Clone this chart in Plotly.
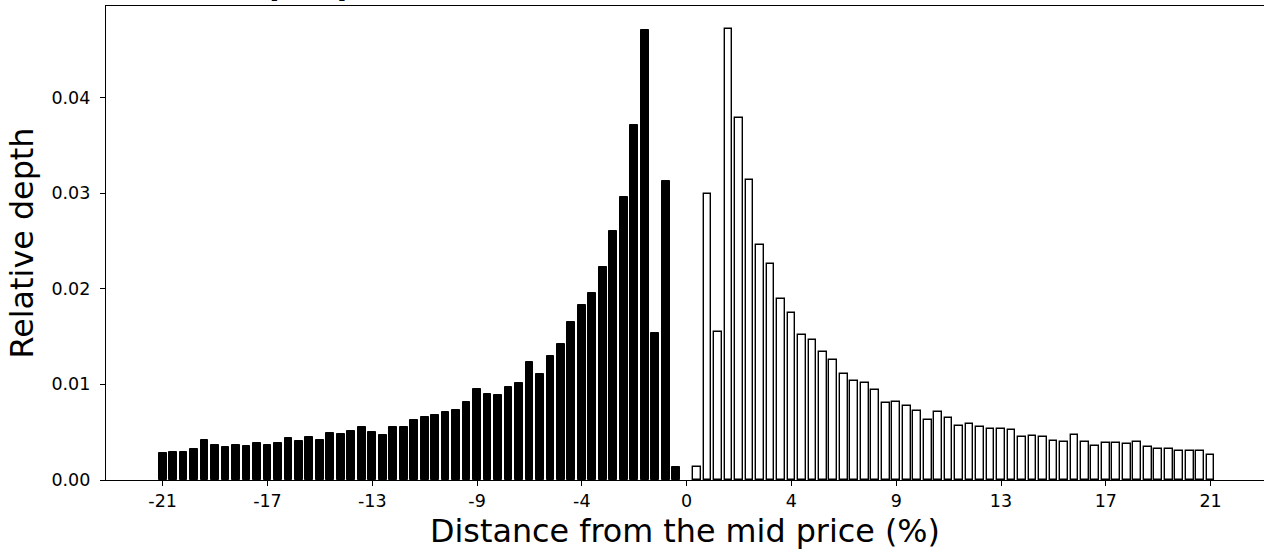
import plotly.graph_objects as go

# Bin geometry (percent distance from mid price)
bin_step = 0.42
n_side = 50
bid_x = [round(-21 + bin_step * i, 2) for i in range(n_side)]
ask_x = [round(bin_step * (i + 1), 2) for i in range(n_side)]

# Relative depth, bid side (from -21% towards the mid price)
bid_depth = [0.00279, 0.00292, 0.00292, 0.00324, 0.00418, 0.00369, 0.00341, 0.00369, 0.00355, 0.00383,
             0.00369, 0.00383, 0.00435, 0.00407, 0.00452, 0.00421, 0.00491, 0.00480, 0.00512, 0.00550,
             0.00501, 0.00473, 0.00557, 0.00554, 0.00627, 0.00661, 0.00682, 0.00710, 0.00731, 0.00811,
             0.00950, 0.00898, 0.00884, 0.00968, 0.01010, 0.01232, 0.01110, 0.01298, 0.01420, 0.01647,
             0.01831, 0.01953, 0.02228, 0.02601, 0.02959, 0.03714, 0.04700, 0.01539, 0.03126, 0.00139]

# Relative depth, ask side (from the mid price to +21%)
ask_depth = [0.00139, 0.02990, 0.01546, 0.04717, 0.03784, 0.03136, 0.02461, 0.02256, 0.01890, 0.01747,
             0.01511, 0.01465, 0.01340, 0.01253, 0.01107, 0.01037, 0.01010, 0.00940, 0.00807, 0.00815,
             0.00769, 0.00721, 0.00627, 0.00710, 0.00644, 0.00567, 0.00585, 0.00554, 0.00533, 0.00533,
             0.00526, 0.00449, 0.00456, 0.00446, 0.00411, 0.00397, 0.00467, 0.00393, 0.00359, 0.00390,
             0.00383, 0.00380, 0.00400, 0.00345, 0.00327, 0.00327, 0.00299, 0.00306, 0.00299, 0.00265]

x_tick_vals = [-21, -16.8, -12.6, -8.4, -4.2, 0, 4.2, 8.4, 12.6, 16.8, 21]
x_tick_text = ["-21", "-17", "-13", "-9", "-4", "0", "4", "9", "13", "17", "21"]
y_tick_vals = [0.00, 0.01, 0.02, 0.03, 0.04]

FONT = "DejaVu Sans"

fig = go.Figure()
fig.add_trace(go.Bar(x=bid_x, y=bid_depth, width=0.31,
                     marker=dict(color="black", line=dict(color="black", width=1)),
                     showlegend=False))
fig.add_trace(go.Bar(x=ask_x, y=ask_depth, width=0.31,
                     marker=dict(color="white", line=dict(color="black", width=1.4)),
                     showlegend=False))

fig.update_layout(
    width=1264, height=552,
    margin=dict(l=106, r=0, t=6, b=72, pad=0),
    paper_bgcolor="white", plot_bgcolor="white",
    font=dict(family=FONT, color="black", size=17),
    bargap=0,
    xaxis=dict(
        range=[-23.27, 23.14],
        tickvals=x_tick_vals, ticktext=x_tick_text,
        ticks="outside", ticklen=5, tickwidth=1.2, tickcolor="black",
        showline=True, linecolor="black", linewidth=1.3, mirror=True,
        showgrid=False, zeroline=False,
        tickfont=dict(size=17.5),
        title=dict(text="Distance from the mid price (%)", font=dict(size=31.8), standoff=9),
    ),
    yaxis=dict(
        range=[0, 0.04956],
        tickvals=y_tick_vals, tickformat=".2f",
        ticks="outside", ticklen=5, tickwidth=1.2, tickcolor="black",
        ticklabelstandoff=6,
        showline=True, linecolor="black", linewidth=1.3, mirror=False,
        showgrid=False, zeroline=False,
        tickfont=dict(size=17.5),
        title=dict(text="Relative depth", font=dict(size=31.8), standoff=8),
    ),
)

fig.add_annotation(
    text="<b>Depth profile of the limit order book</b>",
    xref="paper", yref="paper", x=0.1002, y=1, xanchor="left", yanchor="bottom",
    yshift=2, showarrow=False, font=dict(family=FONT, size=30, color="black"),
)

fig.write_html("out.html")
